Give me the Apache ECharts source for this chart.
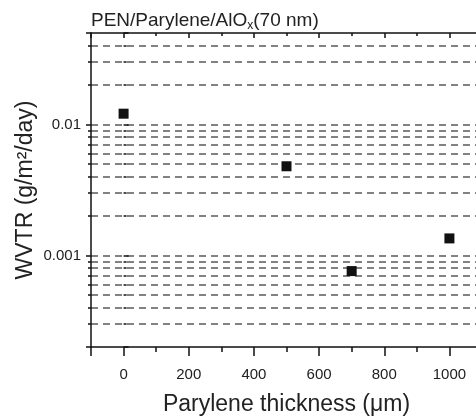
<!DOCTYPE html>
<html>
<head>
<meta charset="utf-8">
<script src="https://cdn.jsdelivr.net/npm/echarts@6/dist/echarts.min.js"></script>
<style>
  html, body { margin: 0; padding: 0; background: #fff; }
  #chart { width: 476px; height: 420px; }
</style>
</head>
<body>
<div id="chart"></div>
<script>
// ---- data ----
const thicknessUm = [0, 500, 700, 1000];
const wvtrValues = [0.0121, 0.0048, 0.00076, 0.00135];
const xRange = [-100, 1100];
const yRange = [0.0002, 0.05];
const titleParts = ['PEN/Parylene/AlO', 'x', '(70 nm)'];
const xAxisName = 'Parylene thickness (\u03bcm)';
const yAxisName = 'WVTR (g/m\u00b2/day)';

const FONT = '"Liberation Sans", Arial, Helvetica, sans-serif';
const AX = '#111';
const TXT = '#222';
const GRIDC = '#5a5a5a';

const chart = echarts.init(document.getElementById('chart'), null, { renderer: 'canvas' });

function fmtLog(v) {
  return String(+Number(v).toPrecision(1));
}
function fmtLin(v) {
  return String(Math.round(v));
}

const option = {
  animation: false,
  backgroundColor: '#fff',
  textStyle: { fontFamily: FONT },
  title: {
    text: '{a|' + titleParts[0] + '}{s|' + titleParts[1] + '}{a|' + titleParts[2] + '}',
    left: 91,
    top: 10,
    padding: 0,
    textStyle: {
      fontWeight: 'normal',
      rich: {
        a: { fontSize: 19, color: TXT, fontFamily: FONT, fontWeight: 'normal' },
        s: { fontSize: 12, color: TXT, fontFamily: FONT, fontWeight: 'normal', padding: [10, 0, 0, 0] }
      }
    }
  },
  grid: { left: 91, top: 33, right: -6, bottom: 73, containLabel: false, outerBoundsMode: 'none' },
  xAxis: [
    {
      type: 'value', min: xRange[0], max: xRange[1], splitNumber: 6, position: 'bottom',
      axisLine: { show: true, onZero: false, lineStyle: { color: AX, width: 1.5 } },
      axisTick: { show: true, length: 9, lineStyle: { color: AX, width: 1.5 } },
      minorTick: { show: true, splitNumber: 2, length: 5, lineStyle: { color: AX, width: 1.5 } },
      axisLabel: { showMinLabel: false, showMaxLabel: false, fontSize: 15, color: TXT, margin: 20, fontFamily: FONT, formatter: fmtLin },
      splitLine: { show: false },
      name: xAxisName, nameLocation: 'middle', nameGap: 46, nameMoveOverlap: false,
      nameTextStyle: { fontSize: 23, color: TXT, fontFamily: FONT }
    },
    {
      type: 'value', min: xRange[0], max: xRange[1], splitNumber: 6, position: 'top',
      axisLine: { show: true, onZero: false, lineStyle: { color: AX, width: 1.5 } },
      axisTick: { show: true, inside: true, length: 5, lineStyle: { color: AX, width: 1.5 } },
      minorTick: { show: true, splitNumber: 2, length: 3, lineStyle: { color: AX, width: 1.5 } },
      axisLabel: { show: false },
      splitLine: { show: false }
    }
  ],
  yAxis: [
    {
      type: 'log', logBase: 10, min: yRange[0], max: yRange[1], position: 'left',
      axisLine: { show: true, onZero: false, lineStyle: { color: AX, width: 1.5 } },
      axisTick: { show: true, length: 5, lineStyle: { color: AX, width: 1.5 } },
      minorTick: { show: true, splitNumber: 9, length: 3, lineStyle: { color: AX, width: 1.5 } },
      axisLabel: { showMinLabel: false, showMaxLabel: false, fontSize: 15, color: TXT, margin: 10, fontFamily: FONT, formatter: fmtLog },
      splitLine: { show: true, showMinLine: false, showMaxLine: false, lineStyle: { color: GRIDC, width: 1.5, type: [7, 5] } },
      minorSplitLine: { show: true, lineStyle: { color: GRIDC, width: 1.5, type: [7, 5] } },
      name: yAxisName, nameLocation: 'middle', nameGap: 54, nameMoveOverlap: false,
      nameTextStyle: { fontSize: 23, color: TXT, fontFamily: FONT }
    },
    {
      type: 'log', logBase: 10, min: yRange[0], max: yRange[1], position: 'left',
      axisLine: { show: false },
      axisTick: { show: true, inside: true, length: 5, lineStyle: { color: AX, width: 1.5 } },
      minorTick: { show: true, splitNumber: 9, length: 3, lineStyle: { color: AX, width: 1.5 } },
      axisLabel: { show: false },
      splitLine: { show: false }
    },
    {
      type: 'log', logBase: 10, min: yRange[0], max: yRange[1], position: 'right',
      axisLine: { show: true, onZero: false, lineStyle: { color: AX, width: 1.5 } },
      axisTick: { show: true, inside: true, length: 5, lineStyle: { color: AX, width: 1.5 } },
      axisLabel: { show: false },
      splitLine: { show: false }
    }
  ],
  series: [
    {
      type: 'scatter',
      xAxisIndex: 0,
      yAxisIndex: 0,
      symbol: 'rect',
      symbolSize: 10,
      itemStyle: { color: '#111', opacity: 1 },
      data: thicknessUm.map((t, i) => [t, wvtrValues[i]])
    }
  ]
};

chart.setOption(option);
</script>
</body>
</html>
